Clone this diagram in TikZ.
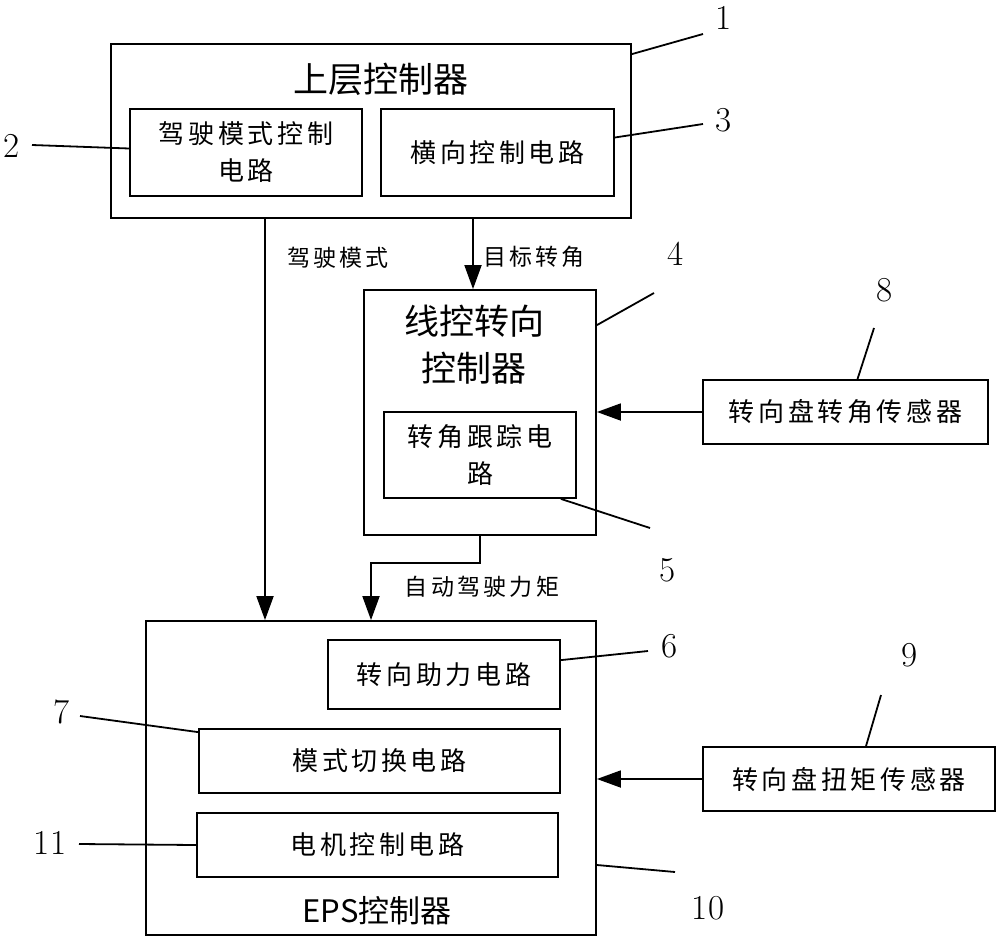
\documentclass[tikz,border=0pt]{standalone}
\usepackage{fontspec}
\usepackage{tikz}
\usetikzlibrary{arrows.meta}
\newfontfamily\cjk{Noto Sans CJK SC}
\newfontfamily\cjkwide[LetterSpace=14]{Noto Sans CJK SC}

\begin{document}
\begin{tikzpicture}[x=1pt,y=-1pt]
	\tikzset{box/.style={draw,line width=1.8pt,inner sep=0pt,align=center,
			font=\cjkwide\fontsize{26}{37}\selectfont},
		title/.style={inner sep=0pt,align=center,font=\cjk\fontsize{35}{47}\selectfont},
		sig/.style={inner sep=0pt,font=\cjkwide\fontsize{23}{28}\selectfont},
		num/.style={inner sep=0pt,font=\fontsize{35}{38}\selectfont},
		lead/.style={line width=1.8pt},
		arr/.style={line width=1.8pt,-{Triangle[length=24pt,width=17pt]}}}
	\useasboundingbox (0,0) rectangle (1000,942);
	
	% upper controller
	\node[box,minimum width=520,minimum height=174] (upper) at (371,131) {};
	\node[title] (uppert) at (381,79) {上层控制器};
	\node[box,minimum width=232,minimum height=87] (drive) at (246,152.5) {驾驶模式控制\\电路};
	\node[box,minimum width=233,minimum height=87] (lat) at (497.5,152.5) {横向控制电路};
	
	% steer-by-wire controller
	\node[box,minimum width=232,minimum height=245] (wire) at (480,412.5) {};
	\node[title] (wiret) at (474,345) {线控转向\\控制器};
	\node[box,minimum width=192,minimum height=86] (track) at (480,455) {转角跟踪电\\路};
	
	% EPS controller
	\node[box,minimum width=450,minimum height=314] (eps) at (371,778) {};
	\node[title,font=\cjk\fontsize{31}{36}\selectfont] (epst) at (377,911) {EPS控制器};
	\node[box,minimum width=232,minimum height=69] (assist) at (444,674.5) {转向助力电路};
	\node[box,minimum width=361,minimum height=64] (mode) at (379.5,761) {模式切换电路};
	\node[box,minimum width=361,minimum height=64] (motor) at (377.5,845) {电机控制电路};
	
	% sensors
	\node[box,minimum width=285,minimum height=64] (angsens) at (845.5,412) {转向盘转角传感器};
	\node[box,minimum width=292,minimum height=64] (torsens) at (849,779) {转向盘扭矩传感器};
	
	% signals
	\coordinate (mx) at (265,0);
	\coordinate (tx) at (473,0);
	\coordinate (qx) at (371,0);
	\draw[arr] (upper.south -| mx) -- (eps.north -| mx);
	\draw[arr] (upper.south -| tx) -- (wire.north -| tx);
	\draw[arr] (wire.south) -- ++(0,27) -| (eps.north -| qx);
	\draw[arr] (angsens.west) -- (wire.east |- angsens.west);
	\draw[arr] (torsens.west) -- (eps.east |- torsens.west);
	
	\node[sig] (modet) at (338,258) {驾驶模式};
	\node[sig] (anglet) at (534,257) {目标转角};
	\node[sig] (torquet) at (482,587) {自动驾驶力矩};
	
	% leader lines and numbers
	\coordinate (l1) at (703,34);
	\coordinate (l2) at (32,145);
	\coordinate (l3) at (703,124);
	\coordinate (l4) at (654,293);
	\coordinate (l5) at (650,528);
	\coordinate (l6) at (648,651);
	\coordinate (l7) at (80,716);
	\coordinate (l8) at (874,328);
	\coordinate (l9) at (881,695);
	\coordinate (l10) at (675,872);
	\coordinate (l11) at (79,844);
	
	\draw[lead] ([yshift=-11pt]upper.north east) -- (l1);
	\draw[lead] ([yshift=4pt]drive.west) -- (l2);
	\draw[lead] ([yshift=15pt]lat.east) -- (l3);
	\draw[lead] ([yshift=-36pt]wire.north east) -- (l4);
	\draw[lead] ([xshift=-16pt]track.south east) -- (l5);
	\draw[lead] ([yshift=-21pt]assist.north east) -- (l6);
	\draw[lead] ([yshift=-4pt]mode.north west) -- (l7);
	\draw[lead] ([xshift=12pt]angsens.north) -- (l8);
	\draw[lead] ([xshift=17pt]torsens.north) -- (l9);
	\draw[lead] ([yshift=-87pt]eps.east) -- (l10);
	\draw[lead] (motor.west) -- (l11);
	
	\node[num] (n1) at (724,18) {1};
	\node[num] (n2) at (12,146) {2};
	\node[num] (n3) at (724,120) {3};
	\node[num] (n4) at (676,254) {4};
	\node[num] (n5) at (668,570) {5};
	\node[num] (n6) at (670,646) {6};
	\node[num] (n7) at (62,712) {7};
	\node[num] (n8) at (885,290) {8};
	\node[num] (n9) at (910,655) {9};
	\node[num] (n10) at (708,908) {10};
	\node[num] (n11) at (50,843) {11};
\end{tikzpicture}
\end{document}
